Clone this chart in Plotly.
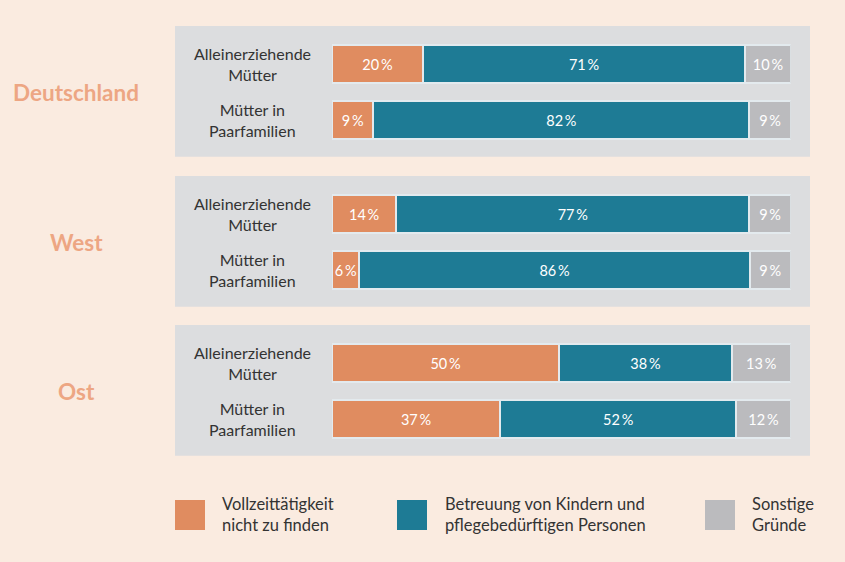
import plotly.graph_objects as go

# ---- data ----
regions = ["Deutschland", "West", "Ost"]
groups = ["Alleinerziehende<br>Mütter", "Mütter in<br>Paarfamilien"]
series_names = ["Vollzeittätigkeit<br>nicht zu finden",
                "Betreuung von Kindern und<br>pflegebedürftigen Personen",
                "Sonstige<br>Gründe"]
vollzeit = {"Deutschland": [20, 9], "West": [14, 6], "Ost": [50, 37]}
betreuung = {"Deutschland": [71, 82], "West": [77, 86], "Ost": [38, 52]}
sonstige = {"Deutschland": [10, 9], "West": [9, 9], "Ost": [13, 12]}

colors = ["#E08C60", "#1E7B95", "#BBBBBE"]
BG = "#FAEBE0"
PANEL = "#DCDDDF"
W, H = 845, 562
FONT = "Lato"

# panel pixel layout (top, bottom)
panels_px = [(26, 156.7), (176, 306.7), (325, 455.7)]
bar_x0, bar_x1 = 332, 790.7
panel_x0, panel_x1 = 175, 810
row_step = 56.0
first_center = 38.0
bar_h = 38.0

fig = go.Figure()
shapes = []
annotations = []

for i, reg in enumerate(regions):
    n = "" if i == 0 else str(i + 1)
    xa, ya = "x" + n, "y" + n
    for vals, name, col in zip([vollzeit[reg], betreuung[reg], sonstige[reg]], series_names, colors):
        fig.add_trace(go.Bar(
            y=groups, x=vals, orientation="h", name=name,
            marker=dict(color=col, line=dict(color="#E3EAEE", width=2)),
            width=bar_h / row_step,
            text=[f"{v}\u2009%" for v in vals], textposition="inside",
            insidetextanchor="middle", textangle=0,
            textfont=dict(color="white", size=14.5, family=FONT),
            xaxis=xa, yaxis=ya, showlegend=False, hoverinfo="skip",
        ))
    top, bot = panels_px[i]
    d0, d1 = 1 - bot / H, 1 - top / H
    span = bot - top
    r_top = -first_center / row_step
    r_bot = (span - first_center) / row_step
    fig.layout["xaxis" + n] = dict(domain=[bar_x0 / W, bar_x1 / W], range=[0, 100],
                                   visible=False, anchor=ya, fixedrange=True)
    fig.layout["yaxis" + n] = dict(domain=[d0, d1], range=[r_bot, r_top], type="category",
                                   visible=False, anchor=xa, categoryorder="array",
                                   categoryarray=groups, fixedrange=True)
    shapes.append(dict(type="rect", xref="paper", yref="paper",
                       x0=panel_x0 / W, x1=panel_x1 / W, y0=d0, y1=d1,
                       fillcolor=PANEL, line=dict(width=0), layer="below"))
    for g in groups:
        annotations.append(dict(xref="paper", yref=ya, x=252 / W, y=g, text=g,
                                showarrow=False, xanchor="center", yanchor="middle",
                                font=dict(size=16, color="#333333", family=FONT)))
    mid = (top + bot) / 2
    annotations.append(dict(xref="paper", yref="paper", x=76 / W, y=1 - (mid + 1.5) / H,
                            text=f"<b>{reg}</b>", showarrow=False, xanchor="center",
                            yanchor="middle",
                            font=dict(size=22.5, color="#EDA683", family=FONT)))

# legend (custom)
leg_sq = [175, 397, 705]
leg_tx = [220, 443, 750]
for sx, tx, name, col in zip(leg_sq, leg_tx, series_names, colors):
    shapes.append(dict(type="rect", xref="paper", yref="paper",
                       x0=sx / W, x1=(sx + 30) / W, y0=1 - 530 / H, y1=1 - 500 / H,
                       fillcolor=col, line=dict(width=0)))
    annotations.append(dict(xref="paper", yref="paper", x=tx / W, y=1 - 514 / H,
                            text=name, showarrow=False, xanchor="left", yanchor="middle",
                            align="left",
                            font=dict(size=16.5, color="#333333", family=FONT)))

fig.update_layout(
    width=W, height=H, margin=dict(l=0, r=0, t=0, b=0),
    paper_bgcolor=BG, plot_bgcolor="rgba(0,0,0,0)",
    barmode="stack", barnorm="percent",
    shapes=shapes, annotations=annotations,
    uniformtext=dict(minsize=13, mode="show"),
    font=dict(family=FONT),
)

fig.write_html("out.html", config={"displayModeBar": False},
               post_script="document.body.style.margin='0';document.body.style.background='%s';" % BG)
